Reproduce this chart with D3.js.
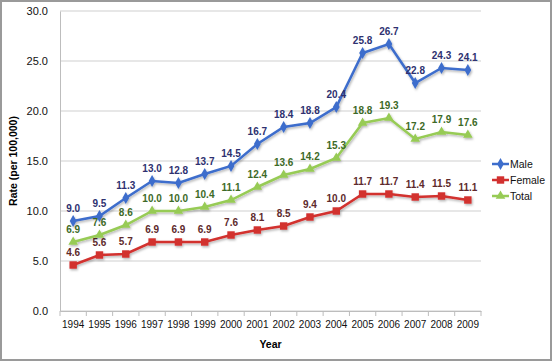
<!DOCTYPE html>
<html>
<head>
<meta charset="utf-8">
<script src="https://cdn.jsdelivr.net/npm/d3@7"></script>
<style>
  body { margin: 0; background: #fff; }
  svg { font-family: "Liberation Sans", Arial, sans-serif; }
</style>
</head>
<body>
<svg id="chart" width="552" height="361"></svg>
<script>
// data
var years = ["1994","1995","1996","1997","1998","1999","2000","2001","2002","2003","2004","2005","2006","2007","2008","2009"];
var male = [9.0, 9.5, 11.3, 13.0, 12.8, 13.7, 14.5, 16.7, 18.4, 18.8, 20.4, 25.8, 26.7, 22.8, 24.3, 24.1];
var female = [4.6, 5.6, 5.7, 6.9, 6.9, 6.9, 7.6, 8.1, 8.5, 9.4, 10.0, 11.7, 11.7, 11.4, 11.5, 11.1];
var total = [6.9, 7.6, 8.6, 10.0, 10.0, 10.4, 11.1, 12.4, 13.6, 14.2, 15.3, 18.8, 19.3, 17.2, 17.9, 17.6];
var yTicks = [0, 5, 10, 15, 20, 25, 30];

var series = [
    { name: "Male", values: male, line: "#3D6DCC", label: "#2E3170", symbol: d3.symbolDiamond, size: 40 },
    { name: "Female", values: female, line: "#D2302F", label: "#5E2A2C", symbol: d3.symbolSquare, size: 55 },
    { name: "Total", values: total, line: "#97CB55", label: "#3D6A27", symbol: d3.symbolTriangle, size: 40 }
];

var svg = d3.select("#chart");
const width = 552, height = 361;
const margin = { top: 11, right: 71, bottom: 50, left: 60 };
const Innerwidth = width - margin.left - margin.right;
const Innerheight = height - margin.top - margin.bottom;

// outer border
svg.append("rect")
    .attr("x", 1).attr("y", 1)
    .attr("width", width - 2).attr("height", height - 2)
    .attr("fill", "#fff")
    .attr("stroke", "#9a9a9a")
    .attr("stroke-width", 2);

var defs = svg.append("defs");
var f = defs.append("filter").attr("id", "shadow").attr("x", "-50%").attr("y", "-50%").attr("width", "200%").attr("height", "200%");
f.append("feDropShadow").attr("dx", 1).attr("dy", 1.5).attr("stdDeviation", 1).attr("flood-color", "#000").attr("flood-opacity", 0.3);

var g = svg.append("g").attr("transform", `translate(${margin.left},${margin.top})`);

var xScale = d3.scaleBand().domain(years).range([0, Innerwidth]);
var yScale = d3.scaleLinear().domain([0, 30]).range([Innerheight, 0]);

// gridlines
g.selectAll(".grid")
    .data(yTicks)
    .enter()
    .append("line")
    .attr("x1", 0).attr("x2", Innerwidth)
    .attr("y1", d => yScale(d)).attr("y2", d => yScale(d))
    .attr("stroke", "#cfcfcf")
    .attr("stroke-width", 1);

// y axis
var yAxis = g.append("g")
    .call(d3.axisLeft(yScale).tickValues(yTicks).tickFormat(d3.format(".1f")).tickSize(0).tickPadding(12));
yAxis.select(".domain").attr("stroke", "#bdbdbd");
yAxis.selectAll("text").attr("font-size", 11).attr("fill", "#111").attr("font-family", "Liberation Sans, Arial, sans-serif");

// x axis with ticks between categories
var xAxis = g.append("g")
    .attr("transform", `translate(0,${Innerheight})`)
    .call(d3.axisBottom(xScale).tickSize(0).tickPadding(10));
xAxis.select(".domain").attr("stroke", "#bdbdbd");
xAxis.selectAll("text").attr("font-size", 10).attr("fill", "#111").attr("font-family", "Liberation Sans, Arial, sans-serif");
xAxis.selectAll(".sep")
    .data(d3.range(years.length + 1))
    .enter()
    .append("line")
    .attr("x1", i => i * xScale.step()).attr("x2", i => i * xScale.step())
    .attr("y1", 0).attr("y2", 5)
    .attr("stroke", "#bdbdbd");

// axis titles
svg.append("text")
    .attr("x", margin.left + Innerwidth / 2)
    .attr("y", height - 13)
    .attr("text-anchor", "middle")
    .attr("font-size", 10.5)
    .attr("font-weight", "bold")
    .text("Year");

svg.append("text")
    .attr("transform", `translate(17,${margin.top + Innerheight / 2}) rotate(-90)`)
    .attr("text-anchor", "middle")
    .attr("font-size", 10.5)
    .attr("font-weight", "bold")
    .text("Rate (per 100,000)");

var line = d3.line()
    .x((d, i) => xScale(years[i]) + xScale.bandwidth() / 2)
    .y(d => yScale(d));

series.forEach(function (s) {
    var sg = g.append("g").attr("filter", "url(#shadow)");
    sg.append("path")
        .datum(s.values)
        .attr("fill", "none")
        .attr("stroke", s.line)
        .attr("stroke-width", 2.5)
        .attr("d", line);
    sg.selectAll(".pt")
        .data(s.values)
        .enter()
        .append("path")
        .attr("d", d3.symbol().type(s.symbol).size(s.size))
        .attr("transform", (d, i) => `translate(${xScale(years[i]) + xScale.bandwidth() / 2},${yScale(d)})`)
        .attr("fill", s.line);
    g.selectAll(".lbl-" + s.name)
        .data(s.values)
        .enter()
        .append("text")
        .attr("x", (d, i) => xScale(years[i]) + xScale.bandwidth() / 2)
        .attr("y", d => yScale(d) - 9.5)
        .attr("text-anchor", "middle")
        .attr("font-size", 10)
        .attr("font-weight", "bold")
        .attr("fill", s.label)
        .text(d => d.toFixed(1));
});

// legend
var legend = svg.append("g").attr("transform", `translate(492,164)`);
legend.selectAll(".legend-item")
    .data(series)
    .enter()
    .append("g")
    .attr("transform", (d, i) => `translate(0,${i * 16})`)
    .each(function (d) {
        var it = d3.select(this);
        it.append("line").attr("x1", 0).attr("x2", 17).attr("stroke", d.line).attr("stroke-width", 2.5);
        it.append("path").attr("d", d3.symbol().type(d.symbol).size(d.size)).attr("transform", "translate(8.5,0)").attr("fill", d.line);
        it.append("text").attr("x", 18).attr("y", 4).attr("font-size", 10.5).attr("fill", "#111").text(d.name);
    });
</script>
</body>
</html>
